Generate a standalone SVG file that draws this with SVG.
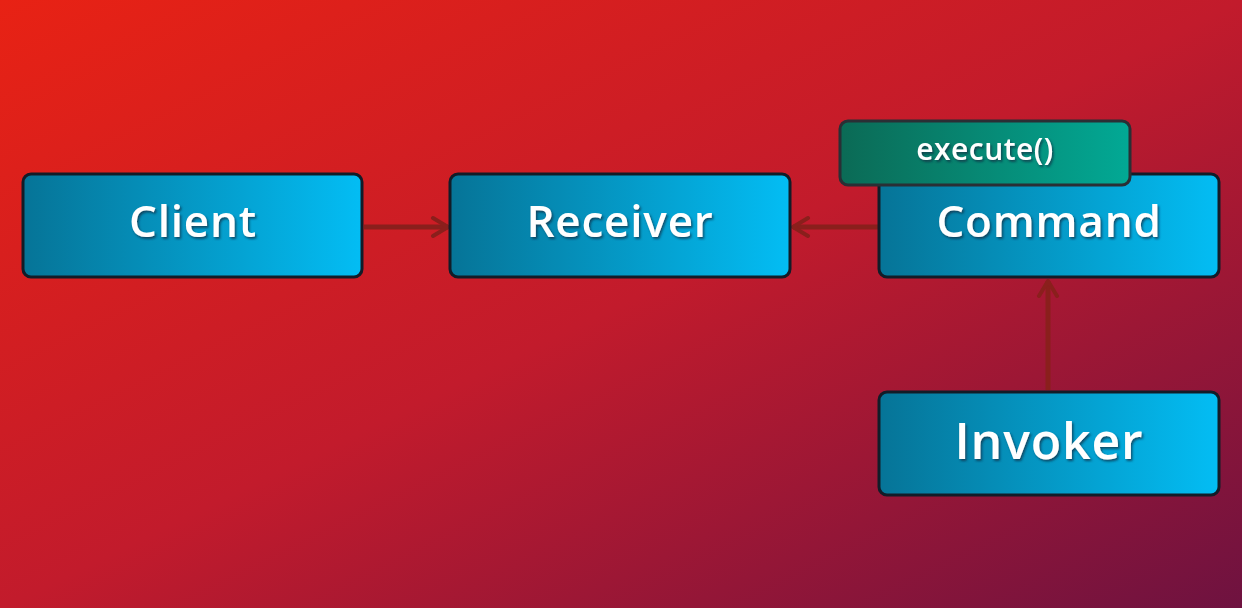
<svg xmlns="http://www.w3.org/2000/svg" width="1242" height="608" viewBox="0 0 1242 608">
<defs>
<linearGradient id="bg" x1="0" y1="0" x2="1" y2="1" gradientUnits="objectBoundingBox">
<stop offset="0" stop-color="#e82214"/>
<stop offset="0.5" stop-color="#c21b2c"/>
<stop offset="1" stop-color="#6e1240"/>
</linearGradient>
<linearGradient id="box" x1="0" y1="0" x2="1" y2="0">
<stop offset="0" stop-color="#067497"/>
<stop offset="1" stop-color="#03bdf4"/>
</linearGradient>
<linearGradient id="green" x1="0" y1="0" x2="1" y2="0">
<stop offset="0" stop-color="#0b6a55"/>
<stop offset="1" stop-color="#02a995"/>
</linearGradient>
<filter id="ts" x="-10%" y="-20%" width="130%" height="150%">
<feDropShadow dx="1.5" dy="2" stdDeviation="0.8" flood-color="#0a2a40" flood-opacity="0.7"/>
</filter>
<marker id="arr" viewBox="0 0 20 24" refX="18" refY="12" markerWidth="20" markerHeight="24" markerUnits="userSpaceOnUse" orient="auto">
<path d="M3,3 L18,12 L3,21" fill="none" stroke="#8a1f1c" stroke-width="4" stroke-linecap="round" stroke-linejoin="round"/>
</marker>
<style>
.node{fill:url(#box);stroke:#121c28;stroke-width:3}
.lbl{font-family:"Open Sans","Liberation Sans",sans-serif;font-weight:600;fill:#ffffff;text-anchor:middle;font-size:44px;letter-spacing:0.8px;filter:url(#ts)}
.conn{stroke:#8a1f1c;stroke-width:5;fill:none;marker-end:url(#arr)}
</style>
</defs>
<rect x="0" y="0" width="1242" height="608" fill="url(#bg)"/>
<g id="connectors">
<line class="conn" x1="364" y1="227" x2="448" y2="227"/>
<line class="conn" x1="878" y1="227" x2="793" y2="227"/>
<line class="conn" x1="1048" y1="390" x2="1048" y2="281"/>
</g>
<g id="client">
<rect class="node" x="23" y="174" width="339" height="103" rx="8"/>
<text class="lbl" x="193" y="237">Client</text>
</g>
<g id="receiver">
<rect class="node" x="450" y="174" width="340" height="103" rx="8"/>
<text class="lbl" x="620" y="237">Receiver</text>
</g>
<g id="command">
<rect class="node" x="879" y="174" width="340" height="103" rx="8"/>
<text class="lbl" x="1049" y="237">Command</text>
</g>
<g id="execute">
<rect x="840" y="121" width="290" height="64" rx="8" fill="url(#green)" stroke="#2a2f35" stroke-width="3"/>
<text class="lbl" x="985" y="160" style="font-size:30px;letter-spacing:0.5px">execute()</text>
</g>
<g id="invoker">
<rect class="node" x="879" y="392" width="340" height="103" rx="8"/>
<text class="lbl" x="1049" y="459" style="font-size:50px">Invoker</text>
</g>
</svg>
